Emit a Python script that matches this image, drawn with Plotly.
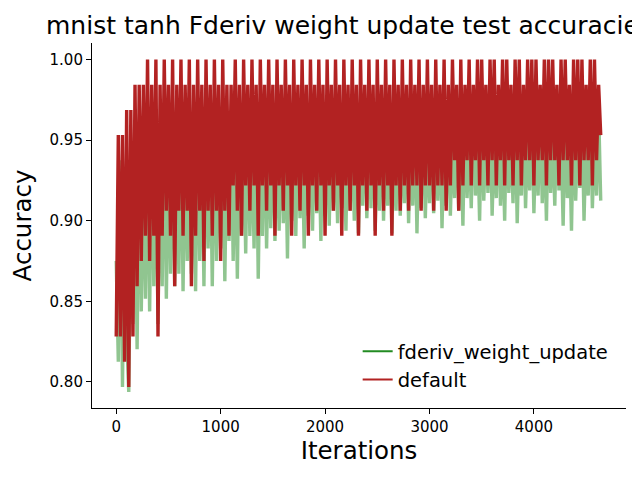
import plotly.graph_objects as go

# one sample every 20 iterations
iterations = list(range(0, 4650, 20))

# test accuracy as correct predictions out of a 64-image batch
default_correct = [
    53, 61, 53, 61, 52, 62, 51, 62, 53, 63,
    55, 63, 56, 63, 57, 64, 56, 63, 57, 64,
    53, 63, 57, 64, 58, 63, 57, 64, 55, 63,
    58, 64, 57, 63, 58, 64, 55, 63, 57, 64,
    58, 63, 56, 64, 58, 63, 57, 64, 58, 63,
    56, 64, 58, 63, 57, 63, 59, 64, 58, 63,
    57, 64, 59, 63, 58, 64, 59, 63, 57, 64,
    59, 63, 58, 64, 59, 63, 57, 64, 59, 63,
    58, 64, 59, 63, 57, 64, 59, 63, 58, 64,
    59, 63, 57, 64, 59, 63, 58, 64, 59, 63,
    57, 64, 59, 63, 58, 64, 59, 63, 57, 64,
    59, 63, 58, 64, 59, 63, 57, 64, 59, 63,
    58, 64, 59, 63, 57, 64, 59, 63, 58, 64,
    59, 63, 57, 64, 59, 63, 58, 64, 59, 63,
    58, 64, 59, 63, 59, 64, 58, 63, 59, 64,
    59, 63, 58, 64, 59, 63, 59, 64, 58, 63,
    59, 64, 60, 63, 58, 64, 59, 63, 60, 64,
    59, 63, 60, 64, 59, 64, 60, 63, 59, 64,
    60, 64, 59, 63, 60, 64, 59, 64, 60, 63,
    59, 64, 60, 64, 59, 63, 60, 64, 60, 64,
    59, 64, 60, 63, 60, 64, 59, 64, 60, 64,
    60, 63, 59, 64, 60, 64, 60, 63, 59, 64,
    60, 64, 59, 64, 60, 63, 60, 64, 59, 64,
    60, 63, 61,
]

fderiv_correct = [
    56, 52, 60, 51, 59, 53, 50.8, 58, 53.5, 60,
    52.5, 61, 54, 60, 54.5, 61, 54, 61, 55, 62,
    53.5, 61, 55, 62, 54.5, 61, 55.5, 62, 55, 61,
    55.5, 62, 54.8, 61, 56, 62, 55.5, 61, 54.8, 62,
    56, 61, 55, 62, 56.5, 61, 55, 62, 56, 61,
    56.5, 62, 55.2, 61, 56.8, 62, 56, 61, 55.3, 62,
    57, 61, 56.3, 62, 57, 61, 56.5, 62, 55.3, 61,
    57, 62, 56.5, 61, 57.3, 62, 56.8, 61, 57.2, 62,
    57.5, 61, 56.1, 62, 57.6, 61, 57, 62, 57.7, 61,
    56.5, 62, 57.8, 61, 57.2, 62, 57.9, 61, 56.8, 62,
    57.8, 61, 57.4, 62, 58, 61, 57.5, 62, 58.1, 61,
    57.2, 62, 58, 61, 57.6, 62, 57.1, 61, 58.2, 62,
    57.7, 61, 58.1, 62, 57.2, 61, 58, 62, 57.6, 61,
    58.2, 62, 57.1, 61, 58, 62, 57.8, 61, 58.3, 62,
    57.5, 61, 58.2, 62, 57.1, 61, 58.1, 62, 57.7, 61,
    58.3, 62, 57.9, 61, 58.4, 62, 57.3, 61, 58.2, 62,
    57.8, 61, 58.5, 62, 58, 61, 57.4, 62, 58.5, 61,
    58.1, 62, 58.6, 61, 57.6, 62, 58.4, 61, 58.7, 62,
    57.8, 61, 58.5, 62, 58.2, 61, 57.6, 62, 58.7, 61,
    58.3, 62, 57.5, 61, 58.6, 62, 58.1, 61, 58.8, 62,
    57.9, 61, 58.6, 62, 58.3, 61, 57.6, 62, 58.7, 61,
    58.2, 62, 58.8, 61, 57.4, 62, 58.5, 61, 57.2, 62,
    58.4, 61, 58.9, 62, 57.6, 61, 58.6, 62, 58.1, 61,
    58.6, 62, 58.4,
]

BATCH = 64
default_acc = [c / BATCH for c in default_correct]
fderiv_acc = [c / BATCH for c in fderiv_correct]

GREEN = '#228B22'
RED = '#B22222'
FONT = 'DejaVu Sans'
LINE_W = 3.4

fig = go.Figure()
fig.add_trace(go.Scatter(
    x=iterations, y=fderiv_acc, mode='lines',
    line=dict(color='rgba(34,139,34,0.5)', width=LINE_W),
    showlegend=False, hoverinfo='skip',
))
fig.add_trace(go.Scatter(
    x=iterations, y=default_acc, mode='lines',
    line=dict(color=RED, width=LINE_W),
    showlegend=False, hoverinfo='skip',
))
# legend entries drawn in full colour
fig.add_trace(go.Scatter(x=[None], y=[None], mode='lines', name='fderiv_weight_update',
                         line=dict(color=GREEN, width=2)))
fig.add_trace(go.Scatter(x=[None], y=[None], mode='lines', name='default',
                         line=dict(color=RED, width=2)))

# the page body adds an 8px offset, so margins are shifted to compensate
fig.update_layout(
    width=640, height=480,
    margin=dict(l=84, r=22, t=35, b=80),
    paper_bgcolor='white', plot_bgcolor='white',
    font=dict(family=FONT, color='black', size=15),
    title=dict(
        text='mnist tanh Fderiv weight update test accuracies',
        font=dict(size=25, family=FONT, color='black'),
        xref='container', x=38 / 640, xanchor='left',
        yref='container', y=1 - 17 / 480, yanchor='middle',
    ),
    legend=dict(
        x=0.4975, y=0.0245, xanchor='left', yanchor='bottom',
        font=dict(size=19.5, family=FONT),
        bgcolor='rgba(0,0,0,0)',
    ),
    showlegend=True,
)
fig.update_xaxes(
    range=[-232, 4882], showgrid=False, zeroline=False, automargin=False,
    showline=True, linecolor='black', linewidth=1.1,
    ticks='outside', ticklen=5, tickwidth=1.1, tickcolor='black',
    tickvals=[0, 1000, 2000, 3000, 4000], tickformat='d',
    tickfont=dict(size=15),
    title=dict(text='Iterations', font=dict(size=24.5), standoff=6),
)
fig.update_yaxes(
    range=[0.7838, 1.0103], showgrid=False, zeroline=False, automargin=False,
    showline=True, linecolor='black', linewidth=1.1,
    ticks='outside', ticklen=5, tickwidth=1.1, tickcolor='black',
    tickvals=[0.80, 0.85, 0.90, 0.95, 1.00], tickformat='.2f',
    tickfont=dict(size=15),
    title=dict(text='Accuracy', font=dict(size=24.5), standoff=10),
)

fig.write_html('out.html')
